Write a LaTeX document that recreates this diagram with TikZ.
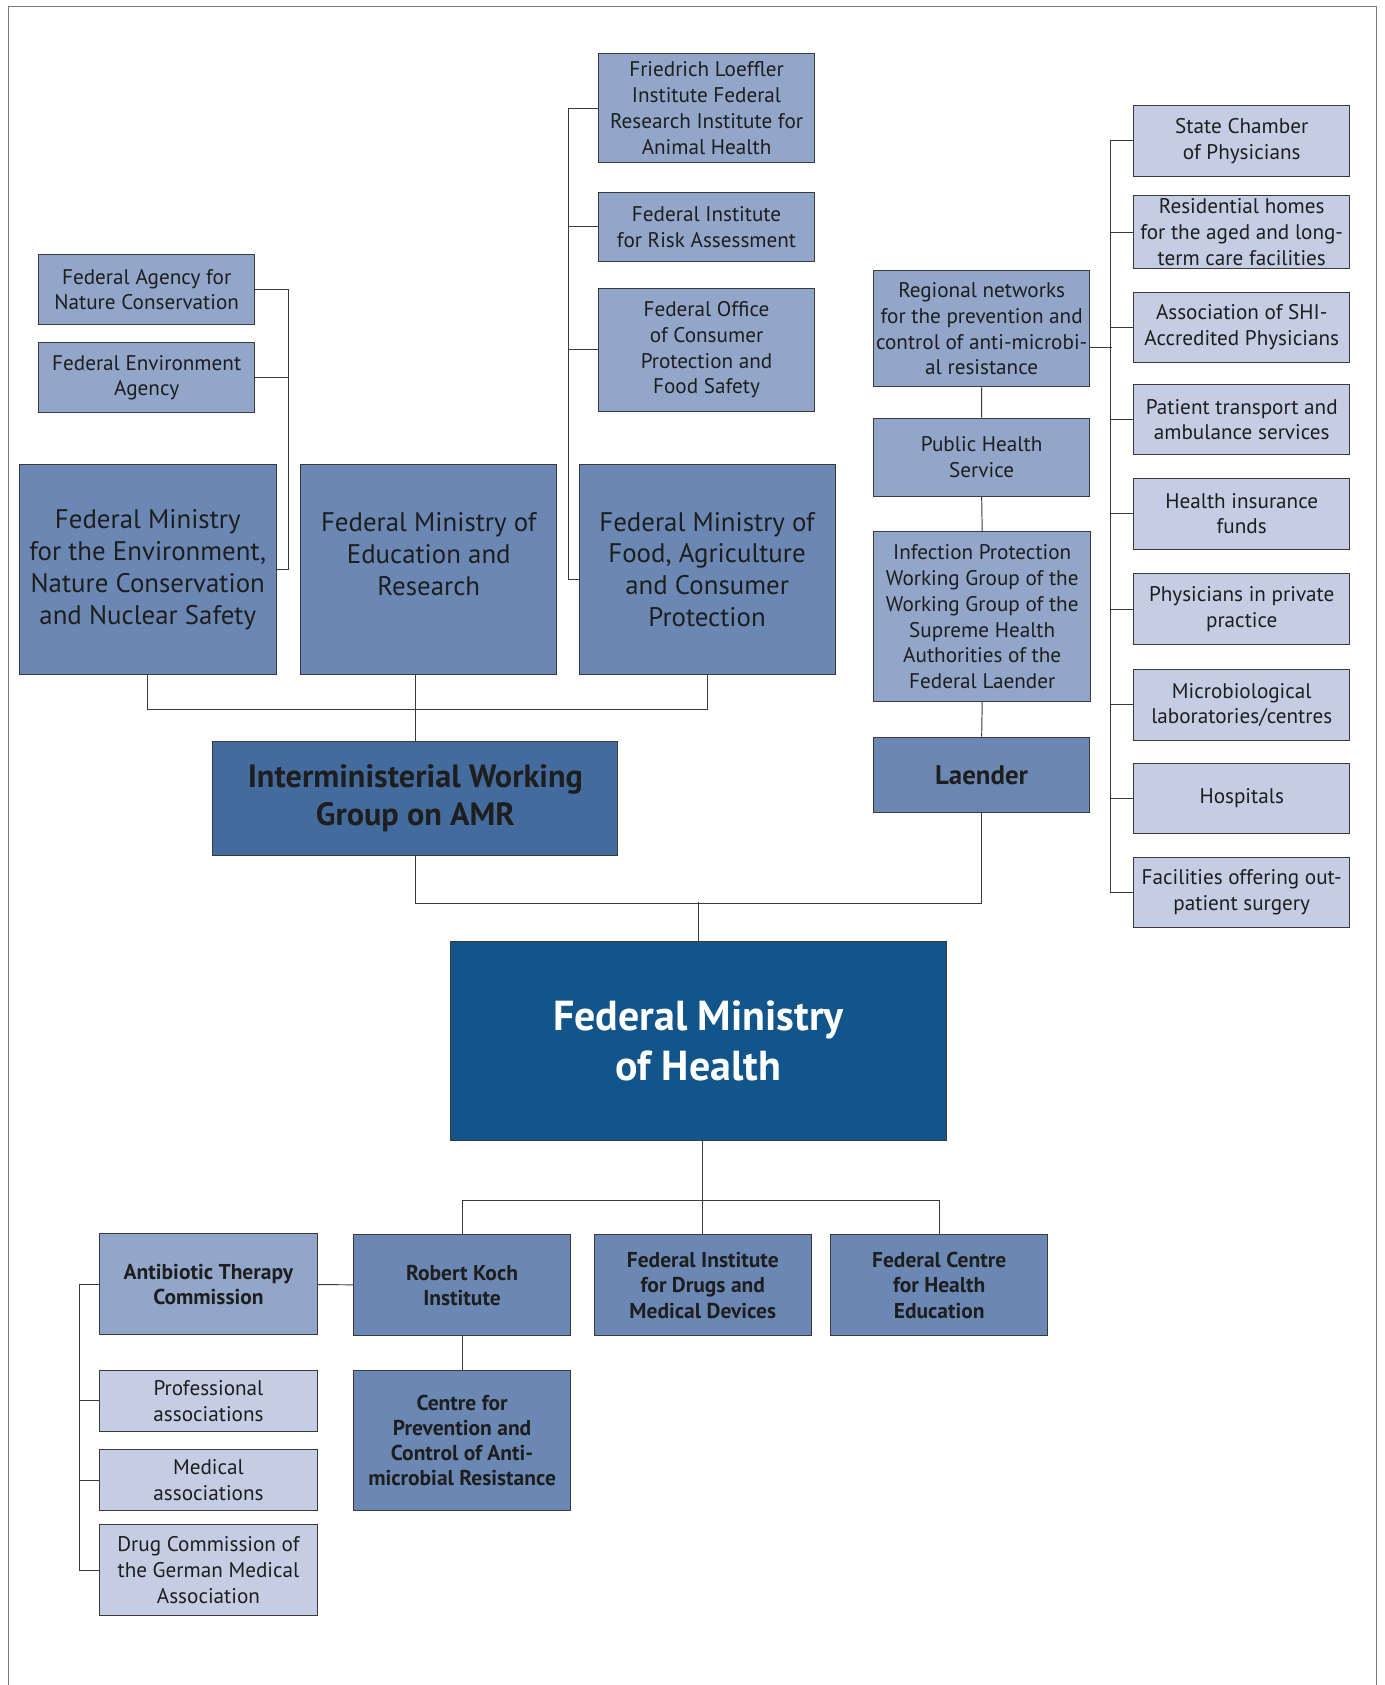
\documentclass[tikz,border=0pt]{standalone}
\usepackage{fontspec}
\setmainfont{PT Sans}
\usetikzlibrary{positioning}

\definecolor{palefill}{HTML}{C4CDE3}
\definecolor{midfill}{HTML}{92A6C9}
\definecolor{deepfill}{HTML}{6A88B3}
\definecolor{groupfill}{HTML}{446B9D}
\definecolor{headfill}{HTML}{11558B}
\definecolor{boxline}{HTML}{3A3A3A}
\definecolor{linegray}{HTML}{3A3A3A}
\definecolor{framegray}{HTML}{7A7A7A}
\definecolor{inkdark}{HTML}{1E1E1E}

\newcommand\boxfont{\fontsize{19.7}{24}\selectfont}
\newcommand\ministryfont{\fontsize{25}{29.7}\selectfont}
\newcommand\unitfont{\bfseries\fontsize{20}{23.5}\selectfont}
\newcommand\laenderfont{\bfseries\fontsize{25}{28}\selectfont}
\newcommand\groupfont{\bfseries\fontsize{30}{35}\selectfont}
\newcommand\headfont{\bfseries\fontsize{39}{47}\selectfont}

\tikzset{
    link/.style={draw=linegray, line width=0.9pt},
    box/.style={draw=boxline, line width=0.9pt, align=center, inner sep=1pt,
        text=inkdark, font=\boxfont},
    paleunit/.style={box, fill=palefill},
    midunit/.style={box, fill=midfill},
    deepunit/.style={box, fill=deepfill},
    dims/.style 2 args={minimum width=#1pt, minimum height=#2pt}
}

\begin{document}
\begin{tikzpicture}[x=1pt,y=-1pt]
    \useasboundingbox (0,0) rectangle (1288,1568);
    \draw[framegray, line width=1.2pt] (8,1568) -- (8,6) -- (1281,6) -- (1281,1568);

    % Agencies of the environment ministry
    \node[midunit, dims={201}{65}] (natcon) at (136.5,269.5) {Federal Agency for\\Nature Conservation};
    \node[midunit, dims={201}{65}] (envag) at (136.5,351.5) {Federal Environment\\Agency};

    % Ministries in the working group
    \node[deepunit, dims={239}{196}, font=\ministryfont] (bmu) at (137.5,530)
        {Federal Ministry\\for the Environment,\\Nature Conservation\\and Nuclear Safety};
    \node[deepunit, dims={238}{196}, font=\ministryfont] (bmbf) at (399,530)
        {Federal Ministry of\\Education and\\Research\\\mbox{}};
    \node[deepunit, dims={238}{196}, font=\ministryfont] (bmel) at (658,530)
        {Federal Ministry of\\Food, Agriculture\\and Consumer\\Protection};

    % Institutes of the food ministry
    \node[midunit, dims={201}{101}] (fli) at (657.5,100.5)
        {Friedrich Loeffler\\Institute Federal\\Research Institute for\\Animal Health};
    \node[midunit, dims={201}{64}] (bfr) at (657.5,211) {Federal Institute\\for Risk Assessment};
    \node[midunit, dims={201}{115}] (bvl) at (657.5,325.5)
        {Federal Office\\of Consumer\\Protection and\\Food Safety};

    % Laender column
    \node[midunit, dims={201}{108}] (regnet) at (913.5,306)
        {Regional networks\\for the prevention and\\control of anti-microbi-\\al resistance};
    \node[midunit, dims={201}{73}] (phs) at (913.5,425.5) {Public Health\\Service};
    \node[midunit, dims={202}{158}] (ipwg) at (914,574)
        {Infection Protection\\Working Group of the\\Working Group of the\\Supreme Health\\Authorities of the\\Federal Laender};
    \node[deepunit, dims={201}{70}, font=\laenderfont] (laender) at (913.5,721) {Laender};

    % Facilities in the Laender
    \node[paleunit, dims={201}{66}] (chamber) at (1155.5,131) {State Chamber\\of Physicians};
    \node[paleunit, dims={201}{68}] (homes) at (1155.5,216) {Residential homes\\for the aged and long-\\term care facilities};
    \node[paleunit, dims={201}{65}] (shi) at (1155.5,304.5) {Association of SHI-\\Accredited Physicians};
    \node[paleunit, dims={201}{65}] (transport) at (1155.5,390.5) {Patient transport and\\ambulance services};
    \node[paleunit, dims={201}{66}] (insurance) at (1155.5,478) {Health insurance\\funds};
    \node[paleunit, dims={201}{66}] (private) at (1155.5,567) {Physicians in private\\practice};
    \node[paleunit, dims={201}{66}] (microlab) at (1155.5,656) {Microbiological\\laboratories/centres};
    \node[paleunit, dims={201}{66}] (hospitals) at (1155.5,743) {Hospitals};
    \node[paleunit, dims={201}{65}] (facilities) at (1155.5,830.5) {Facilities offering out-\\patient surgery};

    % Working group and ministry of health
    \node[box, fill=groupfill, dims={377}{106}, font=\groupfont] (iwg) at (386.5,743)
        {Interministerial Working\\Group on AMR};
    \node[box, fill=headfill, dims={462}{185}, font=\headfont, text=white] (bmg) at (650,968.5)
        {Federal Ministry\\of Health};

    % Authorities under the ministry of health
    \node[deepunit, dims={202}{94}, font=\unitfont] (rki) at (430,1196) {Robert Koch\\Institute};
    \node[deepunit, dims={202}{94}, font=\unitfont] (bfarm) at (654,1196) {Federal Institute\\for Drugs and\\Medical Devices};
    \node[deepunit, dims={202}{94}, font=\unitfont] (bzga) at (874,1196) {Federal Centre\\for Health\\Education};
    \node[deepunit, dims={202}{131}, font=\unitfont] (zig) at (430,1340.5)
        {Centre for\\Prevention and\\Control of Anti-\\microbial Resistance};
    \node[midunit, dims={202}{94}, font=\unitfont] (atc) at (194,1195) {Antibiotic Therapy\\Commission};
    \node[paleunit, dims={202}{57}] (profassoc) at (194,1303.5) {Professional\\associations};
    \node[paleunit, dims={202}{57}] (medassoc) at (194,1377.5) {Medical\\associations};
    \node[paleunit, dims={202}{84}] (drugcom) at (194,1461) {Drug Commission of\\the German Medical\\Association};

    % Connectors, top half
    \draw[link] (natcon.east) -- ++(31,0) |- (bmu.east);
    \draw[link] (envag.east) -- ++(31,0);
    \draw[link] (fli.west) -- ++(-28,0) |- ([yshift=-9pt]bmel.west);
    \draw[link] (bfr.west) -- ++(-28,0);
    \draw[link] (bvl.west) -- ++(-28,0);
    \draw[link] (bmu.south) -- ++(0,32) -| (bmel.south);
    \draw[link] (iwg.north) -- (iwg.north |- bmbf.south);
    \draw[link] (regnet.south) -- (phs.north) (phs.south) -- (ipwg.north) (ipwg.south) -- (laender.north);
    \draw[link] ([yshift=-17pt]regnet.east) -- ++(20,0);
    \draw[link] (chamber.west) -- ++(-21,0) |- (facilities.west);
    \foreach \n in {homes,shi,transport,insurance,private,microlab,hospitals}
        \draw[link] (\n.west) -- ++(-21,0);

    % Connectors, bottom half
    \draw[link] (iwg.south) -- ++(0,44) -| (laender.south);
    \draw[link] (bmg.north) -- ++(0,-36);
    \draw[link] (rki.north) -- ++(0,-31) -| (bzga.north);
    \draw[link] (bfarm.north) -- (bfarm.north |- bmg.south);
    \draw[link] (rki) -- (zig);
    \draw[link] (atc) -- (rki);
    \draw[link] (atc.west) -- ++(-19,0) |- (drugcom.west);
    \draw[link] (profassoc.west) -- ++(-19,0);
    \draw[link] (medassoc.west) -- ++(-19,0);
\end{tikzpicture}
\end{document}
